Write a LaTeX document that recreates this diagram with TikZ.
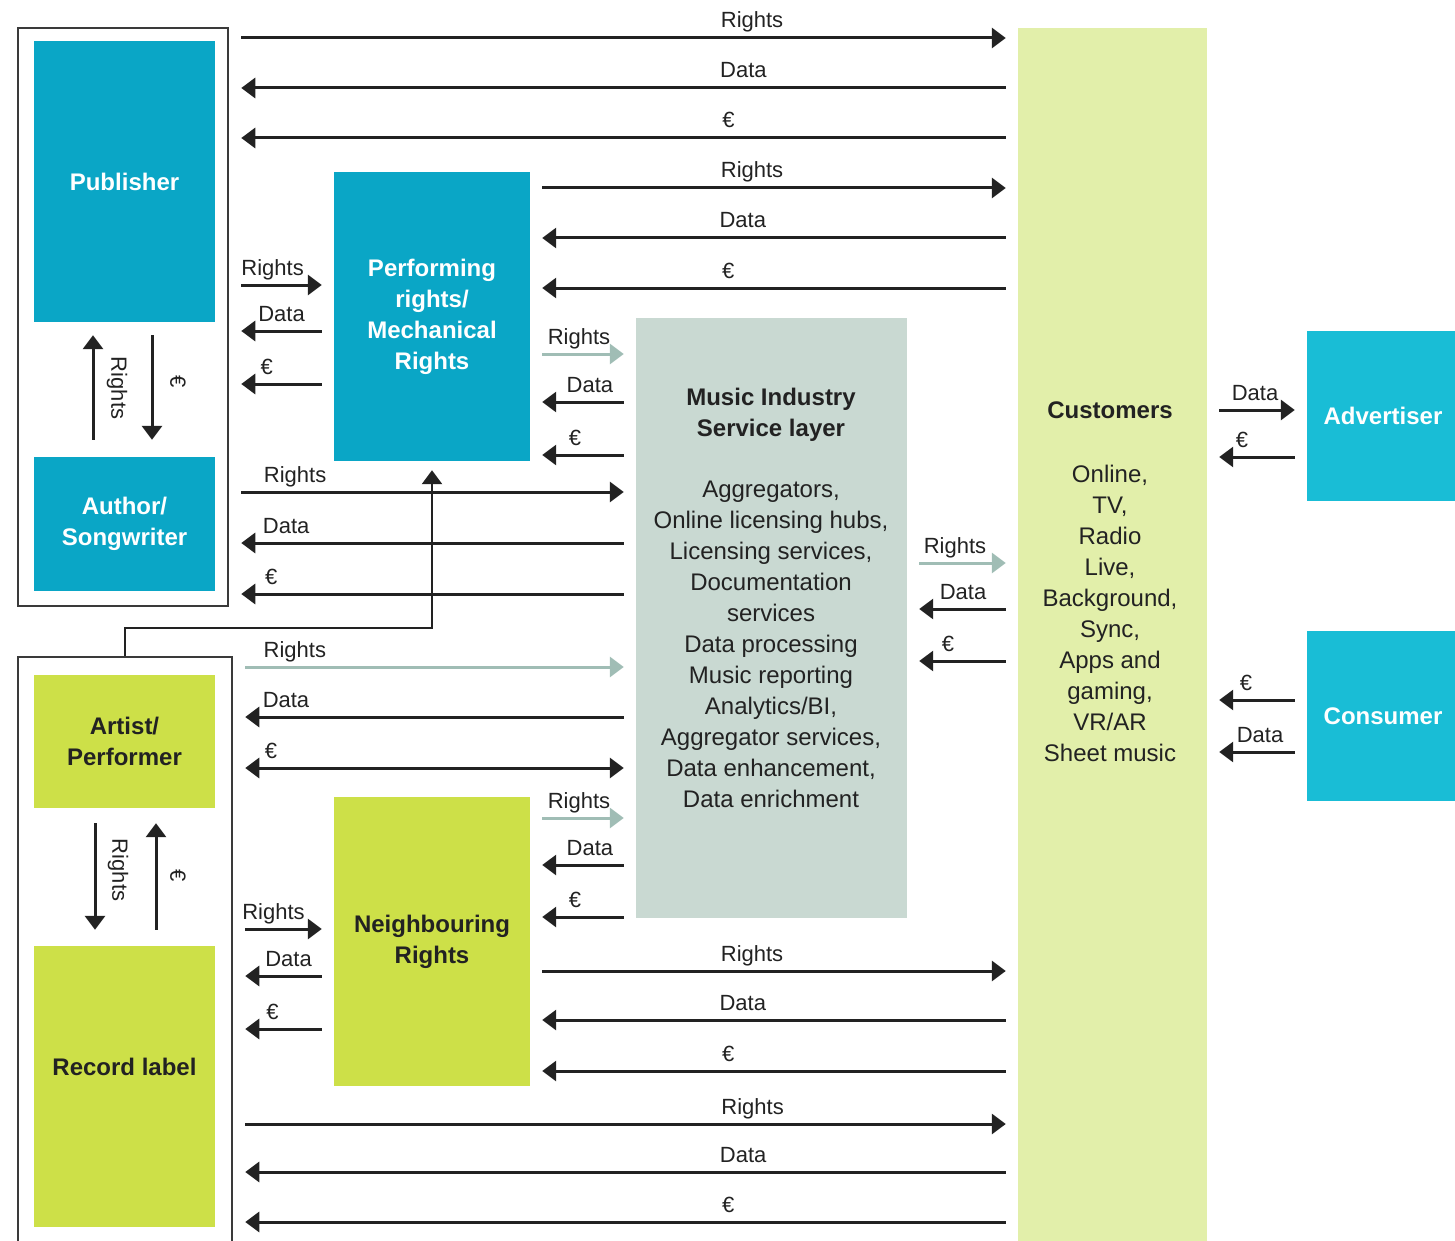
\documentclass[tikz,border=0pt]{standalone}
\usepackage{fontspec}
\setmainfont{Liberation Sans}
\usepackage{xcolor}
\definecolor{pubteal}{HTML}{0AA6C6}
\definecolor{advteal}{HTML}{19BDD6}
\definecolor{limegreen}{HTML}{CDE048}
\definecolor{custbg}{HTML}{E2EFAA}
\definecolor{servbg}{HTML}{C9D9D2}
\definecolor{lightflow}{HTML}{A0BDB5}
\definecolor{ink}{HTML}{222222}
\definecolor{framegray}{HTML}{3A3A3A}
\usetikzlibrary{arrows.meta}
\newcommand{\flowfont}{\fontsize{22}{26}\selectfont}
\newcommand{\titlefont}{\fontsize{24}{31}\selectfont\bfseries}
\newcommand{\listfont}{\fontsize{24}{31}\selectfont}

\begin{document}
\begin{tikzpicture}[x=1pt,y=-1pt,
    grpframe/.style={draw=framegray,line width=2.5pt,inner sep=0pt},
    tealbox/.style={fill=pubteal,text=white,font=\titlefont,align=center,inner sep=0pt},
    advbox/.style={tealbox,fill=advteal},
    greenbox/.style={fill=limegreen,text=ink,font=\titlefont,align=center,inner sep=0pt},
    flow/.style={draw=ink,line width=3pt,shorten <=12pt,shorten >=12pt},
    fwd/.style={flow,-{Triangle[length=14pt,width=20pt]}},
    back/.style={flow,{Triangle[length=14pt,width=20pt]}-},
    twoway/.style={flow,{Triangle[length=14pt,width=20pt]}-{Triangle[length=14pt,width=20pt]}},
    softfwd/.style={fwd,draw=lightflow},
    lbl/.style={font=\flowfont,text=ink,anchor=base,yshift=10pt,inner sep=0pt},
    vlbl/.style={font=\flowfont,text=ink,rotate=-90,inner sep=0pt}]
  \useasboundingbox (0,0) rectangle (1455,1241);

  % rights holders
  \node[grpframe,minimum width=210,minimum height=578] (grpA) at (123,317) {};
  \node[tealbox,minimum width=181,minimum height=281] (pub) at (124.5,181.5) {Publisher};
  \node[tealbox,minimum width=181,minimum height=134] (author) at (124.5,524) {Author/\\Songwriter};
  \node[tealbox,minimum width=196,minimum height=289] (perf) at (432,316.5) {Performing\\rights/\\Mechanical\\Rights};
  \node[grpframe,minimum width=214,minimum height=590] (grpB) at (125,952) {};
  \node[greenbox,minimum width=181,minimum height=133] (artist) at (124.5,741.5) {Artist/\\Performer};
  \node[greenbox,minimum width=181,minimum height=281] (reclabel) at (124.5,1086.5) {};
  \node[font=\titlefont,text=ink] (rectxt) at (124.5,1067) {Record label};
  \node[greenbox,minimum width=196,minimum height=289] (neigh) at (432,941.5) {Neighbouring\\Rights};

  % service layer and customers
  \node[fill=servbg,minimum width=271,minimum height=600] (serv) at (771.5,618) {};
  \node[font=\listfont,text=ink,align=center] (servtxt) at (771,598)
    {\textbf{Music Industry}\\\textbf{Service layer}\\[30pt]
     Aggregators,\\Online licensing hubs,\\Licensing services,\\Documentation\\services\\
     Data processing\\Music reporting\\Analytics/BI,\\Aggregator services,\\Data enhancement,\\Data enrichment};
  \node[fill=custbg,minimum width=189,minimum height=1218] (cust) at (1112.5,637) {};
  \node[font=\listfont,text=ink,align=center] (custtxt) at (1110,582)
    {\textbf{Customers}\\[33pt]
     Online,\\TV,\\Radio\\Live,\\Background,\\Sync,\\Apps and\\gaming,\\VR/AR\\Sheet music};
  \node[advbox,minimum width=152,minimum height=170] (adv) at (1383,416) {Advertiser};
  \node[advbox,minimum width=152,minimum height=170] (cons) at (1383,716) {Consumer};

  % publisher group <-> customers
  \draw[fwd] (grpA.east |- 0,38) -- node[lbl,pos=.663]{Rights} (cust.west |- 0,38);
  \draw[back] (grpA.east |- 0,88) -- node[lbl,pos=.652]{Data} (cust.west |- 0,88);
  \draw[back] (grpA.east |- 0,138) -- node[lbl,pos=.633]{€} (cust.west |- 0,138);

  % performing rights <-> customers
  \draw[fwd] (perf.east |- 0,188) -- node[lbl,pos=.455]{Rights} (cust.west |- 0,188);
  \draw[back] (perf.east |- 0,238) -- node[lbl,pos=.436]{Data} (cust.west |- 0,238);
  \draw[back] (perf.east |- 0,288) -- node[lbl,pos=.406]{€} (cust.west |- 0,288);

  % publisher group <-> performing rights
  \draw[fwd] (grpA.east |- 0,285) -- node[lbl,pos=.415]{Rights} (perf.west |- 0,285);
  \draw[back] (grpA.east |- 0,331) -- node[lbl,pos=.5]{Data} (perf.west |- 0,331);
  \draw[back] (grpA.east |- 0,384) -- node[lbl,pos=.358]{€} (perf.west |- 0,384);

  % performing rights <-> service layer
  \draw[softfwd] (perf.east |- 0,354) -- node[lbl,pos=.462]{Rights} (serv.west |- 0,354);
  \draw[back] (perf.east |- 0,402) -- node[lbl,pos=.566]{Data} (serv.west |- 0,402);
  \draw[back] (perf.east |- 0,455) -- node[lbl,pos=.425]{€} (serv.west |- 0,455);

  % publisher group <-> service layer
  \draw[fwd] (grpA.east |- 0,492) -- node[lbl,pos=.162]{Rights} (serv.west |- 0,492);
  \draw[back] (grpA.east |- 0,543) -- node[lbl,pos=.14]{Data} (serv.west |- 0,543);
  \draw[back] (grpA.east |- 0,594) -- node[lbl,pos=.103]{€} (serv.west |- 0,594);

  % artist group <-> service layer
  \draw[softfwd] (grpB.east |- 0,667) -- node[lbl,pos=.153]{Rights} (serv.west |- 0,667);
  \draw[back] (grpB.east |- 0,717) -- node[lbl,pos=.131]{Data} (serv.west |- 0,717);
  \draw[twoway] (grpB.east |- 0,768) -- node[lbl,pos=.094]{€} (serv.west |- 0,768);

  % record label <-> neighbouring rights
  \draw[fwd] (grpB.east |- 0,929) -- node[lbl,pos=.40]{Rights} (neigh.west |- 0,929);
  \draw[back] (grpB.east |- 0,976) -- node[lbl,pos=.55]{Data} (neigh.west |- 0,976);
  \draw[back] (grpB.east |- 0,1029) -- node[lbl,pos=.39]{€} (neigh.west |- 0,1029);

  % neighbouring rights <-> service layer
  \draw[softfwd] (neigh.east |- 0,818) -- node[lbl,pos=.462]{Rights} (serv.west |- 0,818);
  \draw[back] (neigh.east |- 0,865) -- node[lbl,pos=.566]{Data} (serv.west |- 0,865);
  \draw[back] (neigh.east |- 0,917) -- node[lbl,pos=.425]{€} (serv.west |- 0,917);

  % neighbouring rights <-> customers
  \draw[fwd] (neigh.east |- 0,971) -- node[lbl,pos=.455]{Rights} (cust.west |- 0,971);
  \draw[back] (neigh.east |- 0,1020) -- node[lbl,pos=.436]{Data} (cust.west |- 0,1020);
  \draw[back] (neigh.east |- 0,1071) -- node[lbl,pos=.406]{€} (cust.west |- 0,1071);

  % artist group <-> customers
  \draw[fwd] (grpB.east |- 0,1124) -- node[lbl,pos=.662]{Rights} (cust.west |- 0,1124);
  \draw[back] (grpB.east |- 0,1172) -- node[lbl,pos=.65]{Data} (cust.west |- 0,1172);
  \draw[back] (grpB.east |- 0,1222) -- node[lbl,pos=.631]{€} (cust.west |- 0,1222);

  % service layer <-> customers
  \draw[softfwd] (serv.east |- 0,563) -- node[lbl,pos=.432]{Rights} (cust.west |- 0,563);
  \draw[back] (serv.east |- 0,609) -- node[lbl,pos=.505]{Data} (cust.west |- 0,609);
  \draw[back] (serv.east |- 0,661) -- node[lbl,pos=.369]{€} (cust.west |- 0,661);

  % customers <-> advertiser / consumer
  \draw[fwd] (cust.east |- 0,410) -- node[lbl,pos=.48]{Data} (adv.west |- 0,410);
  \draw[back] (cust.east |- 0,457) -- node[lbl,pos=.35]{€} (adv.west |- 0,457);
  \draw[back] (cust.east |- 0,700) -- node[lbl,pos=.39]{€} (cons.west |- 0,700);
  \draw[back] (cust.east |- 0,752) -- node[lbl,pos=.53]{Data} (cons.west |- 0,752);

  % inside the groups
  \draw[fwd,shorten <=17pt,shorten >=13pt] (author.north -| 93,0) -- (pub.south -| 93,0);
  \draw[fwd,shorten <=13pt,shorten >=17pt] (pub.south -| 152,0) -- (author.north -| 152,0);
  \node[vlbl] (pubR) at (117,388) {Rights};
  \node[vlbl] (pubE) at (178,382) {€};
  \draw[fwd,shorten <=15pt,shorten >=16pt] (artist.south -| 95,0) -- (reclabel.north -| 95,0);
  \draw[fwd,shorten <=16pt,shorten >=15pt] (reclabel.north -| 156,0) -- (artist.south -| 156,0);
  \node[vlbl] (artR) at (118,870) {Rights};
  \node[vlbl] (artE) at (178,876) {€};

  % artist group feeds performing rights
  \draw[fwd,line width=2.5pt,shorten <=0pt,shorten >=9pt] (grpB.north) -- ++(0,-28) -| (perf.south);
\end{tikzpicture}
\end{document}
